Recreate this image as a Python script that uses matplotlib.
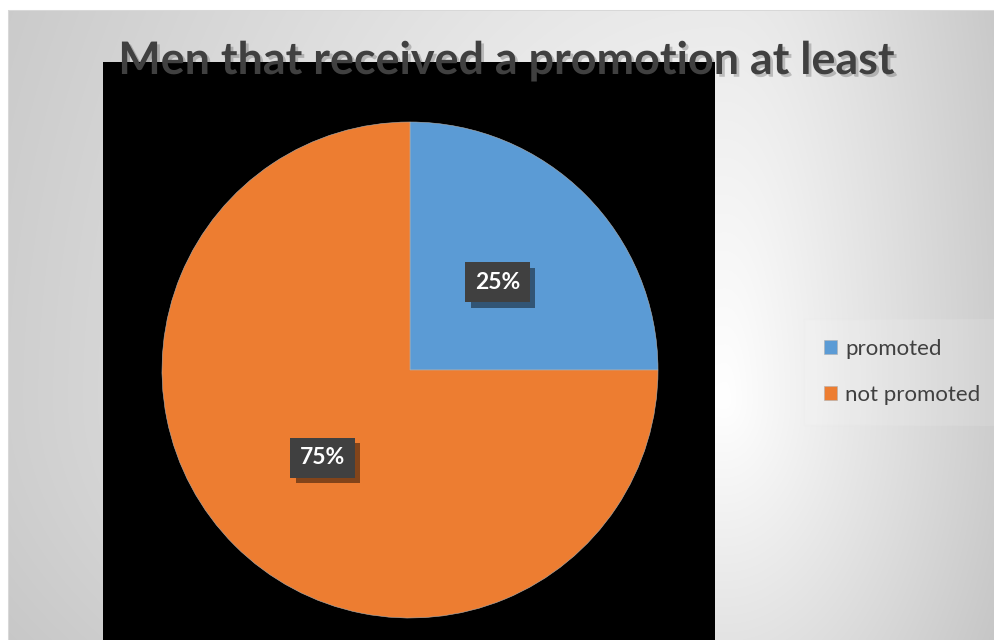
import matplotlib.pyplot as plt
import matplotlib.patheffects as pe
import numpy as np

# chart content
labels = ['promoted', 'not promoted']
shares = [25, 75]
colors = ['#5B9BD5', '#ED7D31']
title = 'Men that received a promotion at least'

W, H = 995, 640
plt.rcParams['font.family'] = ['Lato', 'DejaVu Sans']

fig = plt.figure(figsize=(W / 100, H / 100), dpi=100)
fig.patch.set_facecolor('white')

# soft grey radial background of the chart area
bg = fig.add_axes([0, 0, 1, 1])
bg.set_axis_off()
yy, xx = np.mgrid[0:H, 0:W]
cx, cy = 725, 400
sx = np.where(xx < cx, 800, 290)
sy = np.where(yy < cy, 1000, 460)
d = np.sqrt(((xx - cx) / sx) ** 2 + ((yy - cy) / sy) ** 2)
shade = 1 - 0.21 * np.clip(d, 0, 1.05)
img = np.dstack([shade] * 3)
img[:10, :] = 1
img[:, :8] = 1
img[10, 8:] = 0.85
img[10:, 8] = 0.85
bg.imshow(img, extent=(0, W, H, 0), aspect='auto', interpolation='bilinear')
bg.set_xlim(0, W)
bg.set_ylim(H, 0)

# black plot area holding the pie (units are pixels, y measured from bottom)
ax = fig.add_axes([103 / W, 0, 612 / W, 578 / H])
wedges, texts, autotexts = ax.pie(
    shares, colors=colors, startangle=90, counterclock=False,
    center=(410, H - 370), radius=248, autopct='%d%%', pctdistance=0.5,
    frame=True, wedgeprops=dict(edgecolor='#b0b0b0', linewidth=0.4))
ax.set_xlim(103, 715)
ax.set_ylim(0, 578)
ax.set_facecolor('black')
ax.set_xticks([])
ax.set_yticks([])
for s in ax.spines.values():
    s.set_visible(False)

# dark label boxes with a drop shadow
for t in autotexts:
    t.set_color('white')
    t.set_fontweight('bold')
    t.set_fontsize(16.5)
    t.set_bbox(dict(boxstyle='square,pad=0.42', fc='#404040', ec='none'))
    t.get_bbox_patch().set_path_effects([
        pe.SimplePatchShadow(offset=(4, -4), shadow_rgbFace='black', alpha=0.45),
        pe.Normal()])

fig.text(506 / W, 1 - 61 / H, title, ha='center', va='center',
         fontsize=32.3, fontweight='bold', color='#404040',
         path_effects=[pe.SimplePatchShadow(offset=(2, -2), shadow_rgbFace='black', alpha=0.2),
                       pe.Normal()])

leg = fig.legend(wedges, labels, loc='center left', bbox_to_anchor=(793 / W, 1 - 372 / H),
                 frameon=True, fontsize=16, labelspacing=1.15, handlelength=0.6,
                 handleheight=0.6, handletextpad=0.35, labelcolor='#404040',
                 borderpad=0.9, fancybox=False)
leg.get_frame().set_facecolor('white')
leg.get_frame().set_alpha(0.12)
leg.get_frame().set_edgecolor('#e6e6e6')

fig.savefig('out.png', dpi=100)
